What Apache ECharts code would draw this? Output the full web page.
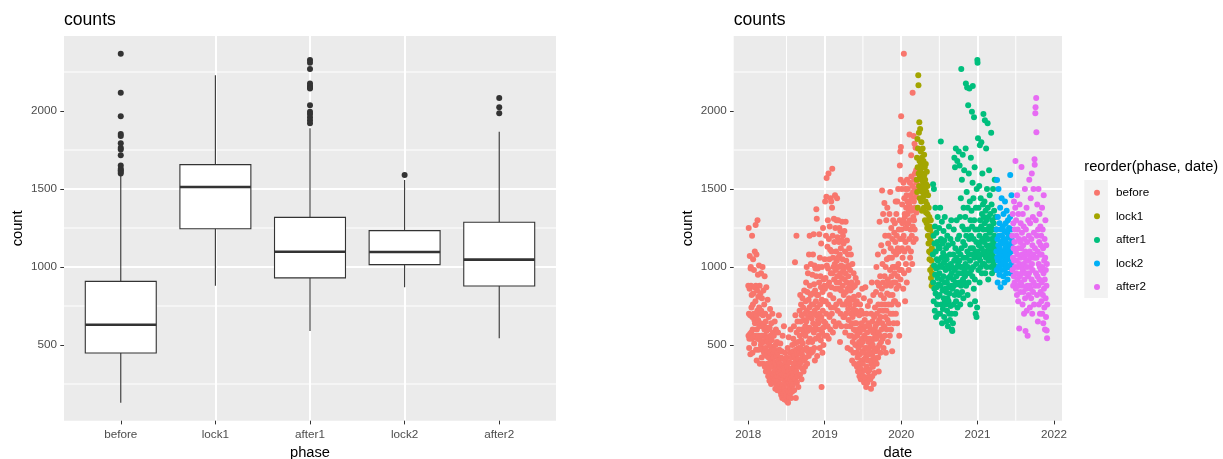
<!DOCTYPE html>
<html><head><meta charset="utf-8">
<script src="https://cdn.jsdelivr.net/npm/echarts@6/dist/echarts.min.js"></script>
<style>html,body{margin:0;padding:0;background:#fff}#main{width:1223px;height:459px}</style>
</head><body><div id="main"></div>
<script>
// ---------- Left panel: boxplot statistics ----------
const boxCategories = ['before', 'lock1', 'after1', 'lock2', 'after2'];
const boxLow    = [130, 880, 590, 870, 543];
const boxQ1     = [449, 1245, 930, 1015, 878];
const boxMedian = [630, 1513, 1098, 1096, 1047];
const boxQ3     = [908, 1656, 1318, 1233, 1287];
const boxHigh   = [1588, 2229, 1889, 1558, 1867];
const outliersBefore = [2367, 2117, 1966, 1853, 1840, 1793, 1765, 1754, 1716, 1650, 1630, 1620, 1610, 1600];
const outliersLock1  = [];
const outliersAfter1 = [2327, 2310, 2269, 2177, 2160, 2150, 2145, 2037, 1995, 1980, 1960, 1940, 1921];
const outliersLock2  = [1590];
const outliersAfter2 = [2083, 2024, 1985];

// ---------- Right panel: daily counts per phase ----------
const phaseNames  = ['before', 'lock1', 'after1', 'lock2', 'after2'];
const phaseColors = ['#F8766D', '#A3A500', '#00BF7D', '#00B0F6', '#E76BF3'];
const phaseStarts = ['2018-01-01', '2020-03-16', '2020-06-01', '2021-04-01', '2021-06-16'];

const beforeCounts = [
  // 2018-01
  880,560,1250,700,480,540,860,1070,570,690,440,990,1000,880,580,740,820,540,1200,680,450,600,760,1050,830,550,700,980,510,660,870,
  // 2018-02
  1100,640,560,780,1270,880,470,690,1080,400,600,850,720,1300,540,950,660,810,470,560,1010,740,620,880,380,700,530,830,
  // 2018-03
  640,500,960,720,560,420,800,620,470,1000,560,690,380,850,520,630,450,760,600,940,360,560,700,480,650,330,540,870,590,430,610,
  // 2018-04
  520,380,790,460,600,300,550,420,680,350,500,270,610,450,730,320,560,400,490,250,640,380,530,300,470,700,360,580,290,440,
  // 2018-05
  420,310,560,260,470,330,650,280,390,220,500,340,600,290,430,250,370,520,300,210,450,340,580,270,400,320,690,240,470,360,300,
  // 2018-06
  380,250,510,200,330,420,180,290,460,230,370,160,310,560,240,410,190,350,280,620,220,340,150,300,450,260,200,390,170,320,
  // 2018-07
  300,180,420,250,140,360,210,480,280,130,330,200,550,260,170,390,230,310,450,190,280,600,220,350,160,420,260,300,200,500,240,
  // 2018-08
  330,460,250,540,380,300,620,210,430,350,510,1030,280,690,400,160,470,330,1200,580,260,440,370,650,300,520,410,230,480,360,600,
  // 2018-09
  450,380,720,560,310,820,480,650,390,760,530,280,690,440,600,350,800,510,420,740,570,330,660,470,850,400,580,700,360,620,
  // 2018-10
  560,780,420,900,650,480,1000,720,380,840,590,460,960,680,520,790,430,1080,610,740,1200,880,540,700,470,820,1020,600,450,760,670,
  // 2018-11
  700,520,950,830,460,1080,640,760,1210,580,890,480,1010,720,400,850,610,990,540,780,940,1370,690,1310,820,430,740,600,990,660,
  // 2018-12
  820,640,1000,560,900,1210,700,480,1060,760,600,940,530,870,1150,680,230,790,1000,580,450,840,720,1250,610,500,920,650,780,560,880,
  // 2019-01
  1050,860,1420,640,930,780,1200,700,1450,1570,1010,560,880,1130,620,1300,990,760,1600,540,1180,900,1050,680,1260,820,1110,600,1440,960,740,
  // 2019-02
  1420,870,1100,700,1380,1630,960,1200,580,1060,800,1000,650,1310,920,1160,740,1020,1460,860,1250,620,980,1100,760,1300,900,1040,
  // 2019-03
  1440,940,1190,720,1060,1300,860,1000,640,1160,900,1250,780,1080,520,960,1230,700,1120,850,1010,620,1170,930,1290,760,1050,880,1200,980,680,
  // 2019-04
  1150,820,1000,680,1230,920,760,1100,580,960,1290,840,700,1040,620,900,1170,780,1000,480,860,1080,730,940,660,1010,800,1120,560,880,
  // 2019-05
  760,980,620,850,470,1080,700,560,900,640,790,400,1020,680,520,870,730,450,960,600,810,380,700,550,880,640,500,760,930,590,720,
  // 2019-06
  640,450,780,360,560,900,420,700,330,600,480,820,380,520,690,300,580,440,760,350,610,280,500,720,400,640,320,540,860,460,
  // 2019-07
  520,380,700,300,600,450,800,260,560,410,660,340,480,870,290,620,420,230,540,700,360,480,580,260,400,750,330,520,440,640,300,
  // 2019-08
  460,620,340,540,780,400,280,600,490,220,700,380,520,900,440,300,650,500,360,580,820,420,250,540,680,470,320,600,740,400,560,
  // 2019-09
  620,460,840,540,1000,380,700,560,900,480,640,1080,420,760,580,330,880,660,500,1290,720,560,940,450,680,820,520,1140,600,760,
  // 2019-10
  860,1490,640,1020,540,900,1340,720,480,1100,800,620,1410,940,560,760,1200,680,1000,450,880,1300,720,600,1050,830,1380,660,920,520,1150,
  // 2019-11
  900,760,1200,640,1060,1340,820,560,980,1480,700,1120,880,600,1250,940,760,1060,460,1180,820,1000,700,1300,900,640,1100,780,1220,960,
  // 2019-12
  1000,1280,780,1160,900,1420,700,1080,1340,860,1200,1000,640,1420,940,1120,760,1500,1020,880,1240,1100,560,980,1300,1650,1180,1740,920,1560,1770,
  // 2020-01
  1966,1240,980,1500,1120,1400,1280,1060,1180,1300,860,1540,1200,2367,960,1440,1100,1340,1320,780,1500,1160,1250,1020,1380,1250,1460,900,1560,1280,1420,
  // 2020-02
  1340,1500,1120,1280,1420,980,1360,1400,1180,1850,1300,1540,1060,1460,1240,1380,1100,1716,1580,1360,1200,1440,1020,1520,2117,1260,1480,1320,1160,
  // 2020-03 (to the 15th)
  1840,1420,1300,1560,1790,1240,1600,1380,1500,1765,1180,1450,1620,1350,1540
];
const lock1Counts = [
  1560,1700,1480,1820,1640,1380,1760,2229,2165,1600,1860,1520,1928,1680,1440,1580,
  1885,1620,1500,1740,1660,1420,1800,1560,1700,1360,1640,1480,1760,1600,1540,1450,1680,1520,1380,1720,1590,1470,1640,1300,1560,1500,1420,1660,1350,1530,
  1480,1280,1610,1400,1250,1520,1340,1200,1460,1300,1150,1380,1240,1100,1320,1050,1260,1180,980,1240,1090,1300,930,1160,1040,880,1120,960,1210,1000,900
];
const after1Counts = [
  // 2020-06
  1080,1530,900,1200,780,1500,1010,860,1150,720,1260,950,1380,830,1100,680,990,1220,870,1050,760,1160,930,1320,810,1040,700,1130,890,1000,
  // 2020-07
  1250,960,820,1120,700,1380,1010,880,1805,1180,760,1060,920,1290,640,1000,850,1150,730,1090,940,1230,800,1030,680,1170,900,1320,780,1070,860,
  // 2020-08
  980,760,1120,840,650,1050,900,720,1200,800,1010,620,930,1140,780,870,1260,700,990,830,1080,660,940,1180,750,1020,880,1300,700,960,600,
  // 2020-09
  1000,590,860,1150,640,920,1080,760,1240,880,1040,1700,820,980,1640,700,1120,900,1760,780,1060,940,1300,840,1000,1680,740,1180,890,1020,
  // 2020-10
  1100,960,1740,820,1200,1040,1650,900,1320,760,1080,1000,1440,880,2269,1120,960,1560,840,1260,1000,1720,920,1160,800,1380,1060,900,1620,1240,980,
  // 2020-11
  1140,940,1320,1020,1760,2177,880,1200,1060,1480,960,2150,1100,820,1380,1000,2037,1240,900,1600,1080,1180,2145,960,1420,1040,760,1300,1120,1700,
  // 2020-12
  1200,980,1360,1080,1995,1260,940,1540,2160,1120,1000,1440,1180,860,1960,1300,1060,1640,920,780,1240,1100,700,1380,1020,1160,680,1500,1080,740,2327,
  // 2021-01
  2310,1100,1825,1240,980,1380,1140,1060,1520,1200,900,1780,1300,1040,1160,1440,1000,1260,1800,1120,960,1340,1080,1600,1180,1020,1400,1240,1980,1100,1320,
  // 2021-02
  1160,1020,1420,1280,1940,1100,960,1360,1200,1060,1760,1300,1140,1000,1500,1240,1080,1921,1380,1180,920,1320,1120,1040,1620,1260,1100,1460,
  // 2021-03
  1220,1060,1340,1140,1000,1260,1860,1120,1400,1180,960,1300,1080,1240,1040,1500,1160,1020,1280,1100,1360,1200,980,1560,1140,1060,1320,1180,1000,1240,1120
];
const lock2Counts = [
  1100,1240,980,1558,1060,1180,900,1320,1040,1140,1500,1000,1200,1080,950,1280,1120,1010,1380,1060,870,1160,1240,1030,1100,1440,980,1200,1090,1020,
  1150,1260,940,1080,1340,1020,1180,1100,900,1230,1060,1420,990,1120,1280,1040,1160,960,1090,1360,1010,1220,1130,920,1070,1300,1050,1190,1000,1110,1250,
  1080,1200,1000,1140,1320,1590,960,1060,1240,1100,1020,1460,1150,990,1170
];
const after2Counts = [
  // 2021-06 (from the 16th)
  1200,980,1340,1060,880,1280,1120,940,1420,1040,1160,900,1240,1000,1380,
  // 2021-07
  1680,1100,860,1300,960,1200,1040,820,1460,1080,920,1240,1000,780,1340,1120,880,1180,606,1020,1400,940,1160,840,1060,1280,900,1120,1000,1641,960,
  // 2021-08
  1220,880,1080,760,1340,980,1140,840,1260,1020,700,1180,920,1060,1500,800,1100,590,960,1240,860,1040,1380,720,1000,1160,880,560,1080,940,1300,
  // 2021-09
  1040,820,1200,960,1560,880,1100,740,1280,1000,860,1440,1060,800,1180,920,1600,1020,700,1140,980,1320,840,1080,1500,900,1220,760,1060,1690,
  // 2021-10
  1655,1120,880,1985,2024,1300,960,2083,1863,1060,1200,820,1400,940,1100,651,1240,880,1500,1020,760,1160,920,1340,1000,700,1080,1260,840,1140,980,
  // 2021-11
  1200,780,1080,900,1380,700,1000,1240,820,1120,640,960,1460,860,1040,740,1180,920,600,1060,1300,800,980,680,1140,880,593,1020,543,760
];
const phaseCounts = [beforeCounts, lock1Counts, after1Counts, lock2Counts, after2Counts];

// ---------- Axis settings ----------
const yMin = 14.7, yMax = 2480.8;
const yTickValues = [500, 1000, 1500, 2000];
const yMinorValues = [250, 750, 1250, 1750, 2250];
const dateMin = 2017.809, dateMax = 2022.105;
const yearTickValues = [2018, 2019, 2020, 2021, 2022];
const yearMinorValues = [2018.5, 2019.5, 2020.5, 2021.5];

// ---------- helpers ----------
const FONT = "'Liberation Sans', Arial, sans-serif";
const DAY = 86400000;
function decimalYear(ms) {
  const y = new Date(ms).getUTCFullYear();
  const s = Date.UTC(y, 0, 1), e = Date.UTC(y + 1, 0, 1);
  return y + (ms - s) / (e - s);
}
function toPoints(startStr, counts) {
  const p = startStr.split('-').map(Number);
  const t0 = Date.UTC(p[0], p[1] - 1, p[2]);
  return counts.map((c, i) => [decimalYear(t0 + i * DAY), c]);
}
const boxPositions = boxCategories.map((_, i) => i + 1);
const boxData = boxCategories.map((_, i) => [i + 1, boxLow[i], boxQ1[i], boxMedian[i], boxQ3[i], boxHigh[i]]);
const outlierLists = [outliersBefore, outliersLock1, outliersAfter1, outliersLock2, outliersAfter2];
const outlierData = [];
outlierLists.forEach((lst, i) => lst.forEach(v => outlierData.push([i + 1, v])));

function renderBox(params, api) {
  const x = api.value(0);
  const pLow = api.coord([x, api.value(1)]);
  const pQ1 = api.coord([x, api.value(2)]);
  const pMed = api.coord([x, api.value(3)]);
  const pQ3 = api.coord([x, api.value(4)]);
  const pHigh = api.coord([x, api.value(5)]);
  const w = api.size([0.75, 0])[0];
  const cx = pMed[0];
  const st = { stroke: '#333333', lineWidth: 1.1 };
  return { type: 'group', children: [
    { type: 'line', shape: { x1: cx, y1: pLow[1], x2: cx, y2: pQ1[1] }, style: st },
    { type: 'line', shape: { x1: cx, y1: pQ3[1], x2: cx, y2: pHigh[1] }, style: st },
    { type: 'rect', shape: { x: cx - w / 2, y: pQ3[1], width: w, height: pQ1[1] - pQ3[1] }, style: { fill: '#ffffff', stroke: '#333333', lineWidth: 1.1 } },
    { type: 'line', shape: { x1: cx - w / 2, y1: pMed[1], x2: cx + w / 2, y2: pMed[1] }, style: { stroke: '#333333', lineWidth: 2.6 } }
  ]};
}
function hLine(xAnchor) {
  return function (params, api) {
    const cs = params.coordSys;
    const y = api.coord([xAnchor, api.value(1)])[1];
    return { type: 'line', shape: { x1: cs.x, y1: y, x2: cs.x + cs.width, y2: y }, style: { stroke: '#ffffff', lineWidth: 1 } };
  };
}
function vLine(yAnchor) {
  return function (params, api) {
    const cs = params.coordSys;
    const x = api.coord([api.value(0), yAnchor])[0];
    return { type: 'line', shape: { x1: x, y1: cs.y, x2: x, y2: cs.y + cs.height }, style: { stroke: '#ffffff', lineWidth: 1 } };
  };
}

const labelStyle = { color: '#4D4D4D', fontSize: 11.7, fontFamily: FONT };
const nameStyle = { color: '#000000', fontSize: 14.7, fontFamily: FONT };
const tickStyle = { show: true, length: 3.7, lineStyle: { color: '#333333', width: 1 } };
const majorSplit = { show: true, showMinLine: false, showMaxLine: false, lineStyle: { color: '#ffffff', width: 2 } };

function yAxisFor(gridIndex) {
  return {
    gridIndex, type: 'value', min: yMin, max: yMax, splitNumber: 5,
    name: 'count', nameLocation: 'middle', nameGap: 38.5, nameRotate: 90, nameTextStyle: nameStyle,
    axisLine: { show: false },
    axisTick: Object.assign({ customValues: yTickValues }, tickStyle),
    axisLabel: Object.assign({ margin: 7, customValues: yTickValues,
      formatter: v => (yTickValues.indexOf(v) >= 0 ? String(v) : '') }, labelStyle),
    splitLine: majorSplit
  };
}

const chart = echarts.init(document.getElementById('main'), null, { renderer: 'canvas' });
const option = {
  animation: false,
  backgroundColor: '#ffffff',
  title: [
    { text: 'counts', left: 64, top: 11.6, padding: 0, textStyle: { color: '#000', fontSize: 17.6, fontWeight: 'normal', fontFamily: FONT } },
    { text: 'counts', left: 733.7, top: 11.6, padding: 0, textStyle: { color: '#000', fontSize: 17.6, fontWeight: 'normal', fontFamily: FONT } },
    { text: 'reorder(phase, date)', left: 1084.3, top: 159.5, padding: 0, textStyle: { color: '#000', fontSize: 14.7, fontWeight: 'normal', fontFamily: FONT } }
  ],
  graphic: [
    { type: 'rect', left: 1084.3, top: 180, shape: { width: 23.6, height: 118 }, style: { fill: '#F2F2F2' }, silent: true, z: 0 }
  ],
  legend: {
    orient: 'vertical', left: 1094, top: 186.7, padding: 0,
    itemWidth: 6, itemHeight: 6, itemGap: 11.6, icon: 'circle', selectedMode: false,
    data: phaseNames,
    formatter: '{n|{name}}',
    textStyle: { color: '#000', fontSize: 11.7, fontFamily: FONT, lineHeight: 12,
      rich: { n: { padding: [0, 0, 0, 11], color: '#000', fontSize: 11.7, fontFamily: FONT, lineHeight: 12 } } }
  },
  grid: [
    { left: 64, top: 36, width: 492, height: 384.7, show: true, backgroundColor: '#EBEBEB', borderWidth: 0, containLabel: false, outerBoundsMode: 'none' },
    { left: 733.7, top: 36, width: 328.3, height: 384.7, show: true, backgroundColor: '#EBEBEB', borderWidth: 0, containLabel: false, outerBoundsMode: 'none' }
  ],
  xAxis: [
    {
      gridIndex: 0, type: 'value', min: 0.4, max: 5.6, splitNumber: 5,
      name: 'phase', nameLocation: 'middle', nameGap: 24, nameTextStyle: nameStyle,
      axisLine: { show: false },
      axisTick: Object.assign({ customValues: boxPositions }, tickStyle),
      axisLabel: Object.assign({ margin: 8, customValues: boxPositions,
        formatter: v => (Number.isInteger(v) && v >= 1 && v <= boxCategories.length ? boxCategories[v - 1] : '') }, labelStyle),
      splitLine: majorSplit
    },
    {
      gridIndex: 1, type: 'value', min: dateMin, max: dateMax, splitNumber: 5,
      name: 'date', nameLocation: 'middle', nameGap: 24, nameTextStyle: nameStyle,
      axisLine: { show: false },
      axisTick: Object.assign({ customValues: yearTickValues }, tickStyle),
      axisLabel: Object.assign({ margin: 8, customValues: yearTickValues,
        formatter: v => (yearTickValues.indexOf(v) >= 0 ? String(v) : '') }, labelStyle),
      splitLine: majorSplit
    }
  ],
  yAxis: [yAxisFor(0), yAxisFor(1)],
  series: [
    { type: 'custom', name: 'minorLeftH', xAxisIndex: 0, yAxisIndex: 0, silent: true, z: 1,
      renderItem: hLine(1), data: yMinorValues.map(v => [1, v]) },
    { type: 'custom', name: 'minorRightH', xAxisIndex: 1, yAxisIndex: 1, silent: true, z: 1,
      renderItem: hLine(2020), data: yMinorValues.map(v => [2020, v]) },
    { type: 'custom', name: 'minorRightV', xAxisIndex: 1, yAxisIndex: 1, silent: true, z: 1,
      renderItem: vLine(1000), data: yearMinorValues.map(v => [v, 1000]) },
    { type: 'custom', name: 'box', xAxisIndex: 0, yAxisIndex: 0, silent: true, z: 3,
      renderItem: renderBox, encode: { x: 0, y: [1, 2, 3, 4, 5] }, data: boxData },
    { type: 'scatter', name: 'outliers', xAxisIndex: 0, yAxisIndex: 0, silent: true, z: 4,
      symbolSize: 6, itemStyle: { color: '#333333', opacity: 1 }, data: outlierData },
    ...phaseNames.map((p, i) => ({
      type: 'scatter', name: p, xAxisIndex: 1, yAxisIndex: 1, silent: true, z: 3 + i * 0.01,
      symbolSize: 6, itemStyle: { color: phaseColors[i], opacity: 1 },
      data: toPoints(phaseStarts[i], phaseCounts[i])
    }))
  ]
};
chart.setOption(option);
</script></body></html>
